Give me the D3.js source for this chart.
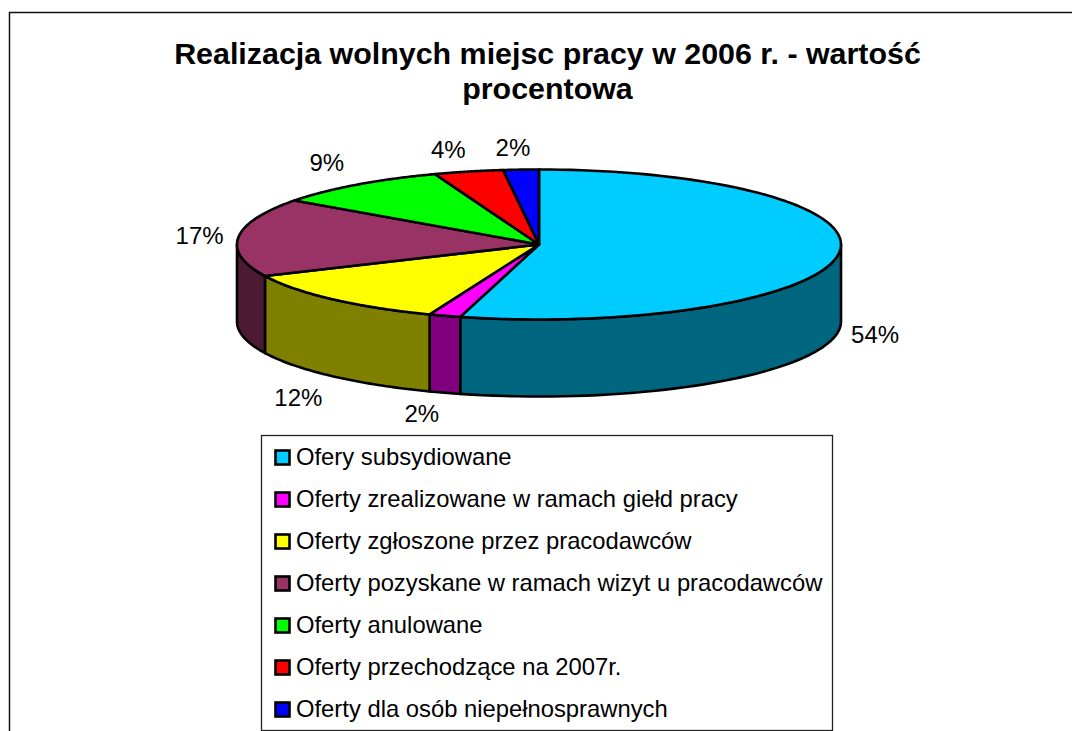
<!DOCTYPE html>
<html><head><meta charset="utf-8">
<script src="https://cdn.jsdelivr.net/npm/d3@7/dist/d3.min.js"></script>
<style>html,body{margin:0;padding:0;background:#fff;overflow:hidden}svg{display:block}text{font-family:"Liberation Sans",Arial,sans-serif;fill:#000}</style>
</head><body><script>
const categories = ["Ofery subsydiowane","Oferty zrealizowane w ramach giełd pracy","Oferty zgłoszone przez pracodawców","Oferty pozyskane w ramach wizyt u pracodawców","Oferty anulowane","Oferty przechodzące na 2007r.","Oferty dla osób niepełnosprawnych"];
const values = [54.2,1.7,12.2,16.9,9.4,3.7,1.9];
const topColors = ["#00CCFF","#FF00FF","#FFFF00","#993366","#00FF00","#FF0000","#0000FF"];
const sideColors = ["#006680","#800080","#808000","#4D1A33","#008000","#800000","#000080"];
const titleLines = ["Realizacja wolnych miejsc pracy w 2006 r. - wartość","procentowa"];

const W=1072,H=731,cx=539,cy=244.5,rx=302,ry=75,depth=77;
const labelNudge=[[2,0],[-12,1],[-10,6],[-4,0],[-9,-5],[-12,-2],[-6,-1]];
const svg=d3.select("body").append("svg").attr("width",W).attr("height",H);
// chart frame: only top and left edges are visible in the crop
svg.append("path").attr("d",`M9.5,${H}V12.5H${W}`).attr("fill","none").attr("stroke","#111").attr("stroke-width",1.5);
svg.append("g").selectAll("text").data(titleLines).join("text")
  .attr("x",547.5).attr("y",(d,i)=>64+i*35).attr("text-anchor","middle")
  .attr("font-size",30.4).attr("font-weight","bold").text(d=>d);

const arcs=d3.pie().sort(null)(values);
const px=a=>cx+rx*Math.sin(a), py=(a,dz=0)=>cy-ry*Math.cos(a)+dz;
const g=svg.append("g").attr("stroke","#000").attr("stroke-width",2.6).attr("stroke-linejoin","round");
// side walls: only the front half of the rim (angles between 90 and 270 degrees)
const lo=Math.PI/2,hi=3*Math.PI/2;
arcs.forEach((d,i)=>{
  const a0=Math.max(d.startAngle,lo),a1=Math.min(d.endAngle,hi);
  if(a1<=a0)return;
  const p=d3.path();
  p.moveTo(px(a0),py(a0));
  const n=48;
  for(let k=1;k<=n;k++){const a=a0+(a1-a0)*k/n;p.lineTo(px(a),py(a));}
  for(let k=n;k>=0;k--){const a=a0+(a1-a0)*k/n;p.lineTo(px(a),py(a,depth));}
  p.closePath();
  g.append("path").attr("d",p.toString()).attr("fill",sideColors[i]);
});
// top face
arcs.forEach((d,i)=>{
  const p=d3.path();
  p.moveTo(cx,cy);p.lineTo(px(d.startAngle),py(d.startAngle));
  const n=96;
  for(let k=1;k<=n;k++){const a=d.startAngle+(d.endAngle-d.startAngle)*k/n;p.lineTo(px(a),py(a));}
  p.closePath();
  g.append("path").attr("d",p.toString()).attr("fill",topColors[i]);
});
// value labels
arcs.forEach((d,i)=>{
  const m=(d.startAngle+d.endAngle)/2;
  const front=m>lo&&m<hi;
  svg.append("text").attr("text-anchor","middle").attr("dominant-baseline","central")
    .attr("font-size",24)
    .attr("x",cx+(rx+35)*Math.sin(m)+labelNudge[i][0])
    .attr("y",cy-(ry+21)*Math.cos(m)+(front?depth:0)+labelNudge[i][1])
    .text(d3.format(".0f")(d.value)+"%");
});
// legend
const lx=261.5,ly=435.5,lw=571,lh=295;
svg.append("rect").attr("x",lx).attr("y",ly).attr("width",lw).attr("height",lh).attr("fill","#fff").attr("stroke","#222").attr("stroke-width",1.3);
const yL=d3.scalePoint().domain(categories).range([457.5,709.5]);
const items=svg.append("g").selectAll("g").data(categories).join("g").attr("transform",d=>`translate(0,${yL(d)})`);
items.append("rect").attr("x",275.5).attr("y",-7).attr("width",14).attr("height",14).attr("fill",(d,i)=>topColors[i]).attr("stroke","#000").attr("stroke-width",2.6);
items.append("text").attr("x",296).attr("y",-1).attr("dominant-baseline","central").attr("font-size",23.8).text(d=>d);
</script></body></html>
